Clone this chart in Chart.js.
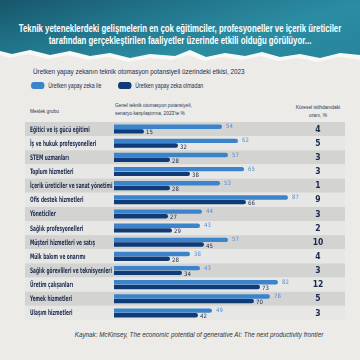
<!DOCTYPE html>
<html>
<head>
<meta charset="utf-8">
<script src="https://cdn.jsdelivr.net/npm/chart.js@4.4.1/dist/chart.umd.min.js"></script>
<style>
  html, body { margin: 0; padding: 0; }
  body { width: 360px; height: 360px; position: relative; overflow: hidden;
         background: #ecebe8; font-family: 'Liberation Sans Narrow', 'Liberation Sans', sans-serif; }
  .paper-edge { position: absolute; left: 0; top: 0; width: 360px; height: 70px; background: #f8f8f6;
    clip-path: polygon(0 0,360px 0,360px 60px,338px 57px,318px 62px,298px 58px,278px 61px,260px 56px,242px 60px,222px 57px,204px 61px,188px 55px,172px 60px,150px 58px,128px 62px,108px 57px,88px 60px,68px 55px,48px 59px,28px 54px,10px 58px,0 55px); }
  .teal { position: absolute; left: 0; top: 0; width: 360px; height: 70px;
    background: linear-gradient(165deg, #18566b 0%, #21748a 30%, #2b8ca2 60%, #26839a 100%);
    clip-path: polygon(0 0,360px 0,360px 55px,340px 53px,320px 58px,300px 54px,280px 57px,262px 52px,245px 56px,225px 53px,206px 57px,190px 50px,175px 56px,150px 54px,130px 58px,110px 53px,90px 56px,70px 51px,50px 55px,30px 50px,12px 54px,0 51px); }
  .tline { position: absolute; left: 50%; color: #fff; font-weight: bold; font-size: 10px; line-height: 12px;
    white-space: nowrap; transform: translateX(-50%) scaleX(0.78); }
  .sq { position: absolute; white-space: nowrap; transform-origin: 0 0; }
  .sub { left: 33px; top: 67px; color: #1d2b4c; font-size: 8px; transform: scaleX(0.79); }
  .legend { top: 82px; color: #1d2b4c; font-size: 7px; }
  .legend i { display: inline-block; width: 18px; height: 7px; border-radius: 3.5px; margin-right: 5px; vertical-align: -1px; }
  .hdr { color: #2b3352; font-size: 6px; line-height: 8px; transform: scaleX(0.8); }
  .src { position: absolute; left: 0; top: 331px; width: 398px; text-align: center; color: #333;
    font-family: 'Liberation Sans', sans-serif; font-style: italic; font-size: 6.3px; }
  canvas { position: absolute; left: 0; top: 0; }
</style>
</head>
<body>
<div class="paper-edge"></div>
<div class="teal"></div>
<div class="tline" style="top:23px">Teknik yeteneklerdeki gelişmelerin en çok eğitimciler, profesyoneller ve içerik üreticiler</div>
<div class="tline" style="top:35px">tarafından gerçekleştirilen faaliyetler üzerinde etkili olduğu görülüyor...</div>
<div class="sq sub">Üretken yapay zekanın teknik otomasyon potansiyeli üzerindeki etkisi, 2023</div>
<div class="sq legend" style="left:31px;transform:scaleX(0.75)"><i style="background:#3b84cb"></i>Üretken yapay zeka ile</div>
<div class="sq legend" style="left:118px;transform:scaleX(0.75)"><i style="background:#0f3b78"></i>Üretken yapay zeka olmadan</div>
<div class="sq hdr" style="left:30px;top:107px">Meslek grubu</div>
<div class="sq hdr" style="left:115px;top:101px">Genel teknik otomasyon potansiyeli,<br>senaryo karşılaştırma, 2023'te %</div>
<div class="sq hdr" style="left:294px;top:103px;width:60px;text-align:center">Küresel istihdamdaki<br>oranı, %</div>
<div class="src">Kaynak: McKinsey, The economic potential of generative AI: The next productivity frontier</div>
<canvas id="chart" width="360" height="360"></canvas>
<script>
const categories = [
  'Eğitici ve iş gücü eğitimi',
  'İş ve hukuk profesyonelleri',
  'STEM uzmanları',
  'Toplum hizmetleri',
  'İçerik üreticiler ve sanat yönetimi',
  'Ofis destek hizmetleri',
  'Yöneticiler',
  'Sağlık profesyonelleri',
  'Müşteri hizmetleri ve satış',
  'Mülk bakım ve onarımı',
  'Sağlık görevlileri ve teknisyenleri',
  'Üretim çalışanları',
  'Yemek hizmetleri',
  'Ulaşım hizmetleri'
];
const withAI    = [54, 62, 57, 65, 53, 87, 44, 43, 57, 38, 43, 82, 78, 49];
const withoutAI = [15, 32, 28, 38, 28, 66, 27, 29, 45, 28, 34, 73, 70, 42];
const employment = [4, 5, 3, 3, 1, 9, 3, 2, 10, 4, 3, 12, 5, 3];

const NARROW = "'Liberation Sans Narrow', 'DejaVu Sans Condensed', sans-serif";

// bands + row labels + value labels + employment column
const tablePlugin = {
  id: 'table',
  beforeDatasetsDraw(chart) {
    const { ctx } = chart;
    const y = chart.scales.y;
    const step = y.getPixelForValue(1) - y.getPixelForValue(0);
    ctx.save();
    categories.forEach((c, i) => {
      ctx.fillStyle = i % 2 === 0 ? '#d3d3d2' : '#e7e7e6';
      ctx.fillRect(25, y.getPixelForValue(i) - step / 2, 320, step);
    });
    ctx.restore();
  },
  afterDatasetsDraw(chart) {
    const { ctx } = chart;
    const y = chart.scales.y;
    ctx.save();
    ctx.textBaseline = 'middle';
    // row labels
    ctx.fillStyle = '#1b2a4c';
    ctx.font = 'bold 7.5px ' + NARROW;
    categories.forEach((c, i) => {
      ctx.save();
      ctx.translate(30, y.getPixelForValue(i) + 0.5);
      ctx.scale(0.64, 1);
      ctx.fillText(c, 0, 0);
      ctx.restore();
    });
    // value labels
    ctx.font = '6px ' + NARROW;
    chart.data.datasets.forEach((ds, di) => {
      const meta = chart.getDatasetMeta(di);
      ctx.fillStyle = di === 0 ? '#5a8fd0' : '#1b2a4c';
      meta.data.forEach((el, i) => {
        ctx.fillText(ds.data[i], el.x + (di === 0 ? 4 : 2), el.y + (di === 0 ? 0 : 1.5));
      });
    });
    // employment share
    ctx.fillStyle = '#1b2a4c';
    ctx.font = 'bold 8.5px ' + NARROW;
    ctx.textAlign = 'center';
    employment.forEach((v, i) => {
      ctx.fillText(v, 318, y.getPixelForValue(i) + 0.5);
    });
    ctx.restore();
  }
};

new Chart(document.getElementById('chart'), {
  type: 'bar',
  data: {
    labels: categories,
    datasets: [
      {
        label: 'Üretken yapay zeka ile',
        data: withAI,
        backgroundColor: '#3b84cb',
        borderRadius: 3,
        barPercentage: 0.94,
        categoryPercentage: 0.66
      },
      {
        label: 'Üretken yapay zeka olmadan',
        data: withoutAI,
        backgroundColor: '#0f3b78',
        borderRadius: 3,
        barPercentage: 0.94,
        categoryPercentage: 0.66
      }
    ]
  },
  options: {
    indexAxis: 'y',
    responsive: false,
    devicePixelRatio: 1,
    animation: false,
    layout: { padding: { left: 114, right: 16, top: 122, bottom: 40 } },
    plugins: { legend: { display: false }, tooltip: { enabled: false } },
    scales: {
      x: { display: false, min: 0, max: 115 },
      y: { display: false }
    }
  },
  plugins: [tablePlugin]
});
</script>
</body>
</html>
